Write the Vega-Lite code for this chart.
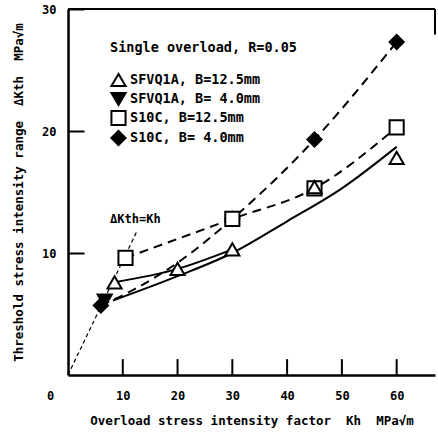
{
  "$schema": "https://vega.github.io/schema/vega-lite/v6.json",
  "width": 367,
  "height": 366,
  "autosize": {"type": "none"},
  "padding": {"left": 68, "top": 9, "right": 3, "bottom": 60},
  "background": "white",
  "config": {"view": {"stroke": null}, "font": "DejaVu Sans Mono"},
  "datasets": {
    "points": [
      {"series": "S10C, B= 4.0mm", "x": 6, "y": 5.7},
      {"series": "S10C, B= 4.0mm", "x": 30, "y": 12.8},
      {"series": "S10C, B= 4.0mm", "x": 45, "y": 19.3},
      {"series": "S10C, B= 4.0mm", "x": 60, "y": 27.3},
      {"series": "SFVQ1A, B= 4.0mm", "x": 6.7, "y": 6.1},
      {"series": "S10C, B=12.5mm", "x": 10.5, "y": 9.6},
      {"series": "S10C, B=12.5mm", "x": 30, "y": 12.8},
      {"series": "S10C, B=12.5mm", "x": 45, "y": 15.3},
      {"series": "S10C, B=12.5mm", "x": 60, "y": 20.3},
      {"series": "SFVQ1A, B=12.5mm", "x": 8.5, "y": 7.6},
      {"series": "SFVQ1A, B=12.5mm", "x": 20, "y": 8.7},
      {"series": "SFVQ1A, B=12.5mm", "x": 30, "y": 10.3},
      {"series": "SFVQ1A, B=12.5mm", "x": 45, "y": 15.4},
      {"series": "SFVQ1A, B=12.5mm", "x": 60, "y": 17.8}
    ],
    "curves": [
      {"curve": "A", "style": "solid", "x": 8.2, "y": 6.1},
      {"curve": "A", "style": "solid", "x": 20, "y": 8.1},
      {"curve": "A", "style": "solid", "x": 30, "y": 10.0},
      {"curve": "A", "style": "solid", "x": 40, "y": 12.6},
      {"curve": "A", "style": "solid", "x": 50, "y": 15.3},
      {"curve": "A", "style": "solid", "x": 60, "y": 18.7},
      {"curve": "B", "style": "solid", "x": 8.5, "y": 7.6},
      {"curve": "B", "style": "solid", "x": 20, "y": 8.7},
      {"curve": "B", "style": "solid", "x": 30, "y": 10.3},
      {"curve": "C", "style": "dashed", "x": 10.5, "y": 9.6},
      {"curve": "C", "style": "dashed", "x": 30, "y": 12.8},
      {"curve": "C", "style": "dashed", "x": 45, "y": 15.3},
      {"curve": "C", "style": "dashed", "x": 60, "y": 20.3},
      {"curve": "D", "style": "dashed", "x": 6, "y": 5.7},
      {"curve": "D", "style": "dashed", "x": 12, "y": 7.0},
      {"curve": "D", "style": "dashed", "x": 20, "y": 9.2},
      {"curve": "D", "style": "dashed", "x": 30, "y": 12.8},
      {"curve": "D", "style": "dashed", "x": 45, "y": 19.3},
      {"curve": "D", "style": "dashed", "x": 60, "y": 27.3},
      {"curve": "E", "style": "dotted", "x": 0, "y": 0},
      {"curve": "E", "style": "dotted", "x": 12.6, "y": 11.8}
    ],
    "xticks": [
      {"x": 10, "y": 0, "y2": 1.3},
      {"x": 20, "y": 0, "y2": 1.3},
      {"x": 30, "y": 0, "y2": 1.3},
      {"x": 40, "y": 0, "y2": 1.3},
      {"x": 50, "y": 0, "y2": 1.3},
      {"x": 60, "y": 0, "y2": 1.3}
    ]
  },
  "encoding": {
    "x": {
      "field": "x", "type": "quantitative",
      "scale": {"domain": [0, 67], "nice": false, "zero": false},
      "axis": {
        "title": "Overload stress intensity factor\u00a0\u00a0Kh\u00a0\u00a0MPa√m",
        "values": [0, 10, 20, 30, 40, 50, 60],
        "grid": false,
        "domainColor": "black", "domainWidth": 2.5,
        "ticks": false,
        "labelOffset": {"condition": {"test": "datum.value == 0", "value": -18}, "value": 0},
        "labelFont": "DejaVu Sans Mono", "labelFontWeight": "bold", "labelFontSize": 12,
        "labelColor": "black", "labelPadding": 15, "labelFlush": false,
        "titleFont": "DejaVu Sans Mono", "titleFontWeight": "bold", "titleFontSize": 12.5,
        "titleColor": "black", "titleY": 45, "titleBaseline": "middle"
      }
    },
    "y": {
      "field": "y", "type": "quantitative",
      "scale": {"domain": [0, 30], "nice": false, "zero": false},
      "axis": {
        "title": "Threshold stress intensity range\u00a0\u00a0ΔKth\u00a0\u00a0MPa√m",
        "values": [10, 20, 30],
        "grid": false,
        "domainColor": "black", "domainWidth": 2.5,
        "tickColor": "black", "tickWidth": 2, "tickSize": -16,
        "labelFont": "DejaVu Sans Mono", "labelFontWeight": "bold", "labelFontSize": 12,
        "labelColor": "black", "labelPadding": 28, "labelFlush": false,
        "titleFont": "DejaVu Sans Mono", "titleFontWeight": "bold", "titleFontSize": 12.5,
        "titleColor": "black", "titleX": -50, "titleBaseline": "middle"
      }
    }
  },
  "layer": [
    {
      "data": {"values": [{"x": 0, "x2": 67, "y": 30}]},
      "mark": {"type": "rule", "color": "black", "strokeWidth": 2},
      "encoding": {"x2": {"field": "x2"}}
    },
    {
      "data": {"values": [{"x": 67, "y": 27.9, "y2": 30}]},
      "mark": {"type": "rule", "color": "black", "strokeWidth": 2},
      "encoding": {"y2": {"field": "y2"}}
    },
    {
      "data": {"name": "xticks"},
      "mark": {"type": "rule", "color": "black", "strokeWidth": 2},
      "encoding": {"y2": {"field": "y2"}}
    },
    {
      "data": {"name": "curves"},
      "transform": [{"filter": "datum.style == 'solid'"}],
      "mark": {"type": "line", "color": "black", "strokeWidth": 2, "interpolate": "monotone"},
      "encoding": {"detail": {"field": "curve"}}
    },
    {
      "data": {"name": "curves"},
      "transform": [{"filter": "datum.style == 'dashed'"}],
      "mark": {"type": "line", "color": "black", "strokeWidth": 2, "strokeDash": [9, 6], "interpolate": "monotone"},
      "encoding": {"detail": {"field": "curve"}}
    },
    {
      "data": {"name": "curves"},
      "transform": [{"filter": "datum.style == 'dotted'"}],
      "mark": {"type": "line", "color": "black", "strokeWidth": 1.2, "strokeDash": [4, 3]},
      "encoding": {"detail": {"field": "curve"}}
    },
    {
      "data": {"values": [{"x": 12.3, "y": 12.8, "label": "ΔKth=Kh"}]},
      "mark": {"type": "text", "font": "DejaVu Sans Mono", "fontWeight": "bold", "fontSize": 12, "color": "black"},
      "encoding": {"text": {"field": "label"}}
    },
    {
      "data": {"name": "points"},
      "mark": {"type": "point", "strokeWidth": 2, "size": 200, "opacity": 1, "filled": false},
      "encoding": {
        "shape": {
          "field": "series", "type": "nominal",
          "scale": {"domain": ["SFVQ1A, B=12.5mm", "SFVQ1A, B= 4.0mm", "S10C, B=12.5mm", "S10C, B= 4.0mm"],
                    "range": ["triangle-up", "triangle-down", "square", "diamond"]},
          "legend": {
            "title": "Single overload, R=0.05", "orient": "none", "legendX": 42, "legendY": 32,
            "titleFont": "DejaVu Sans Mono", "titleFontWeight": "bold", "titleFontSize": 13.5, "titleColor": "black",
            "titlePadding": 17, "titleLimit": 400, "labelLimit": 400,
            "labelFont": "DejaVu Sans Mono", "labelFontWeight": "bold", "labelFontSize": 13.5, "labelColor": "black",
            "labelOffset": 3, "symbolSize": 200, "symbolStrokeWidth": 2,
            "rowPadding": -3, "padding": 0
          }
        },
        "fill": {
          "field": "series", "type": "nominal",
          "scale": {"domain": ["SFVQ1A, B=12.5mm", "SFVQ1A, B= 4.0mm", "S10C, B=12.5mm", "S10C, B= 4.0mm"],
                    "range": ["white", "black", "white", "black"]},
          "legend": {
            "title": "Single overload, R=0.05", "orient": "none", "legendX": 42, "legendY": 32,
            "titleFont": "DejaVu Sans Mono", "titleFontWeight": "bold", "titleFontSize": 13.5, "titleColor": "black",
            "titlePadding": 17, "titleLimit": 400, "labelLimit": 400,
            "labelFont": "DejaVu Sans Mono", "labelFontWeight": "bold", "labelFontSize": 13.5, "labelColor": "black",
            "labelOffset": 3, "symbolSize": 200, "symbolStrokeWidth": 2,
            "rowPadding": -3, "padding": 0
          }
        },
        "stroke": {
          "field": "series", "type": "nominal",
          "scale": {"domain": ["SFVQ1A, B=12.5mm", "SFVQ1A, B= 4.0mm", "S10C, B=12.5mm", "S10C, B= 4.0mm"],
                    "range": ["black", "black", "black", "black"]},
          "legend": {
            "title": "Single overload, R=0.05", "orient": "none", "legendX": 42, "legendY": 32,
            "titleFont": "DejaVu Sans Mono", "titleFontWeight": "bold", "titleFontSize": 13.5, "titleColor": "black",
            "titlePadding": 17, "titleLimit": 400, "labelLimit": 400,
            "labelFont": "DejaVu Sans Mono", "labelFontWeight": "bold", "labelFontSize": 13.5, "labelColor": "black",
            "labelOffset": 3, "symbolSize": 200, "symbolStrokeWidth": 2,
            "rowPadding": -3, "padding": 0
          }
        }
      }
    }
  ]
}
